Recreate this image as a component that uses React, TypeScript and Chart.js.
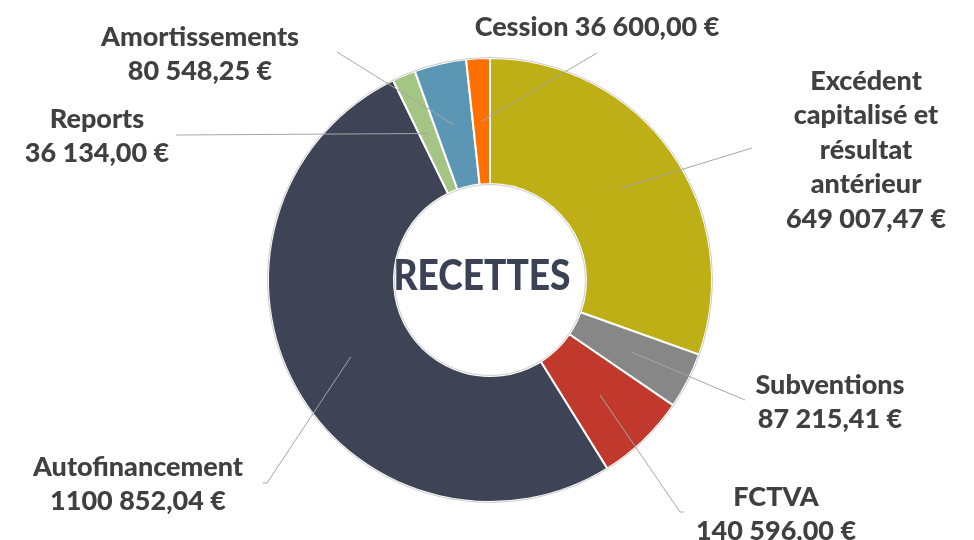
import React, { useEffect, useRef } from "react";
import { Chart, registerables } from "chart.js";

Chart.register(...registerables);

const categories = [
  "Excédent capitalisé et résultat antérieur",
  "Subventions",
  "FCTVA",
  "Autofinancement",
  "Reports",
  "Amortissements",
  "Cession",
];
const values = [649007.47, 87215.41, 140596.0, 1100852.04, 36134.0, 80548.25, 36600.0];
const valueLabels = [
  "649 007,47 €",
  "87 215,41 €",
  "140 596,00 €",
  "1100 852,04 €",
  "36 134,00 €",
  "80 548,25 €",
  "36 600,00 €",
];
const nameLines = [
  ["Excédent", "capitalisé et", "résultat", "antérieur"],
  ["Subventions"],
  ["FCTVA"],
  ["Autofinancement"],
  ["Reports"],
  ["Amortissements"],
  ["Cession"],
];
const colors = ["#BDAF15", "#878787", "#C0392C", "#3E4456", "#A4C584", "#5B97B4", "#FF7000"];

// label layout (text centre x, first line y, leader end point, inline name+value)
const layout = [
  { x: 866, y: 81, ex: 752, ey: 148, inline: false, tick: 0 },
  { x: 830, y: 385, ex: 745, ey: 400, inline: false, tick: 0 },
  { x: 776, y: 497, ex: 680, ey: 512, inline: false, tick: 4 },
  { x: 138, y: 467, ex: 267, ey: 483, inline: false, tick: -4 },
  { x: 97, y: 119, ex: 176, ey: 135, inline: false, tick: 0 },
  { x: 200, y: 37, ex: 337, ey: 52, inline: false, tick: 0 },
  { x: 597, y: 27, ex: 597, ey: 53, inline: true, tick: 0 },
];

const LABEL_FONT = "900 27px Lato";
const LINE_H = 34.5;

const labelsPlugin = {
  id: "customLabels",
  afterDatasetsDraw(chart: any) {
    const ctx = chart.ctx as CanvasRenderingContext2D;
    const meta = chart.getDatasetMeta(0);
    const first = meta.data[0] as any;
    const cx = first.x;
    const cy = first.y;
    ctx.save();
    // faint rims
    ctx.strokeStyle = "rgba(190,190,190,0.8)";
    ctx.lineWidth = 1;
    ctx.beginPath();
    ctx.arc(cx, cy, first.outerRadius + 0.5, 0, Math.PI * 2);
    ctx.stroke();
    ctx.beginPath();
    ctx.arc(cx, cy, first.innerRadius - 0.5, 0, Math.PI * 2);
    ctx.stroke();

    // center title
    ctx.fillStyle = "#3B4256";
    ctx.textAlign = "center";
    ctx.textBaseline = "alphabetic";
    ctx.font = "900 42px Lato";
    const tw = ctx.measureText("RECETTES").width;
    ctx.save();
    ctx.translate(cx - 8, cy + 10);
    ctx.scale(177 / tw, 1);
    ctx.fillText("RECETTES", 0, 0);
    ctx.restore();

    meta.data.forEach((arc: any, i: number) => {
      const p = arc.getCenterPoint();
      const l = layout[i];
      ctx.strokeStyle = "#A6A6A6";
      ctx.lineWidth = 1;
      ctx.beginPath();
      ctx.moveTo(p.x, p.y);
      ctx.lineTo(l.ex, l.ey);
      if (l.tick) ctx.lineTo(l.ex + l.tick, l.ey);
      ctx.stroke();

      ctx.fillStyle = "#404040";
      ctx.font = LABEL_FONT;
      ctx.textAlign = "center";
      ctx.textBaseline = "middle";
      const lines = l.inline
        ? [nameLines[i].join(" ") + " " + valueLabels[i]]
        : [...nameLines[i], valueLabels[i]];
      lines.forEach((t, k) => ctx.fillText(t, l.x, l.y + k * LINE_H));
    });
    ctx.restore();
  },
};

export default function App() {
  const ref = useRef<HTMLCanvasElement>(null);
  useEffect(() => {
    const chart = new Chart(ref.current as HTMLCanvasElement, {
      type: "doughnut",
      data: {
        labels: categories,
        datasets: [
          {
            data: values,
            backgroundColor: colors,
            borderColor: "#FFFFFF",
            borderWidth: 2,
          },
        ],
      },
      options: {
        responsive: false,
        animation: false,
        devicePixelRatio: 1,
        radius: 222,
        cutout: 112,
        layout: { padding: { left: 6, right: 0, top: 20, bottom: 0 } },
        plugins: { legend: { display: false }, tooltip: { enabled: false } },
      } as any,
      plugins: [labelsPlugin],
    });
    return () => chart.destroy();
  }, []);
  return (
    <div style={{ position: "absolute", left: 0, top: 0, width: 974, height: 540, background: "#fff" }}>
      <canvas ref={ref} width={974} height={540} />
    </div>
  );
}
